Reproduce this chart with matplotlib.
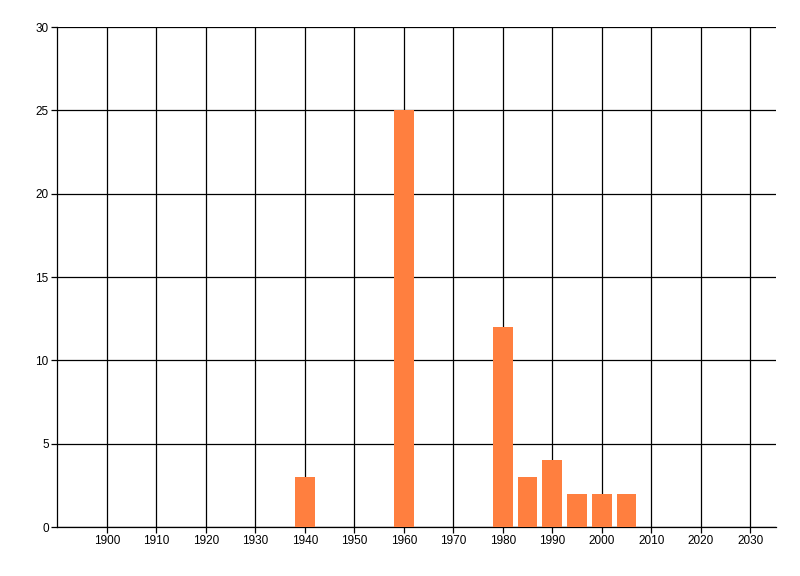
import matplotlib
matplotlib.use('Agg')
import matplotlib.pyplot as plt

# Data
years = [1940, 1960, 1980, 1985, 1990, 1995, 2000, 2005]
counts = [3, 25, 12, 3, 4, 2, 2, 2]
x_ticks = list(range(1900, 2031, 10))
y_ticks = [0, 5, 10, 15, 20, 25, 30]

plt.rcParams['font.family'] = ['Liberation Sans', 'DejaVu Sans']

fig = plt.figure(figsize=(8, 5.76), dpi=100)
ax = fig.add_axes([57 / 800, 1 - 527 / 576, (776 - 57) / 800, (527 - 27) / 576])

ax.bar(years, counts, width=4, color='#ff7f3f', zorder=3)

ax.set_xlim(1889.9, 2035.2)
ax.set_ylim(0, 30)
ax.set_xticks(x_ticks)
ax.set_yticks(y_ticks)
ax.grid(True, color='black', linewidth=0.9, zorder=1)
ax.set_axisbelow(True)

for side in ['top', 'right']:
    ax.spines[side].set_visible(False)
for side in ['left', 'bottom']:
    ax.spines[side].set_linewidth(0.9)

ax.tick_params(axis='both', labelsize=8.5, length=4, width=0.9, pad=2)

fig.savefig('out.png', dpi=100)
